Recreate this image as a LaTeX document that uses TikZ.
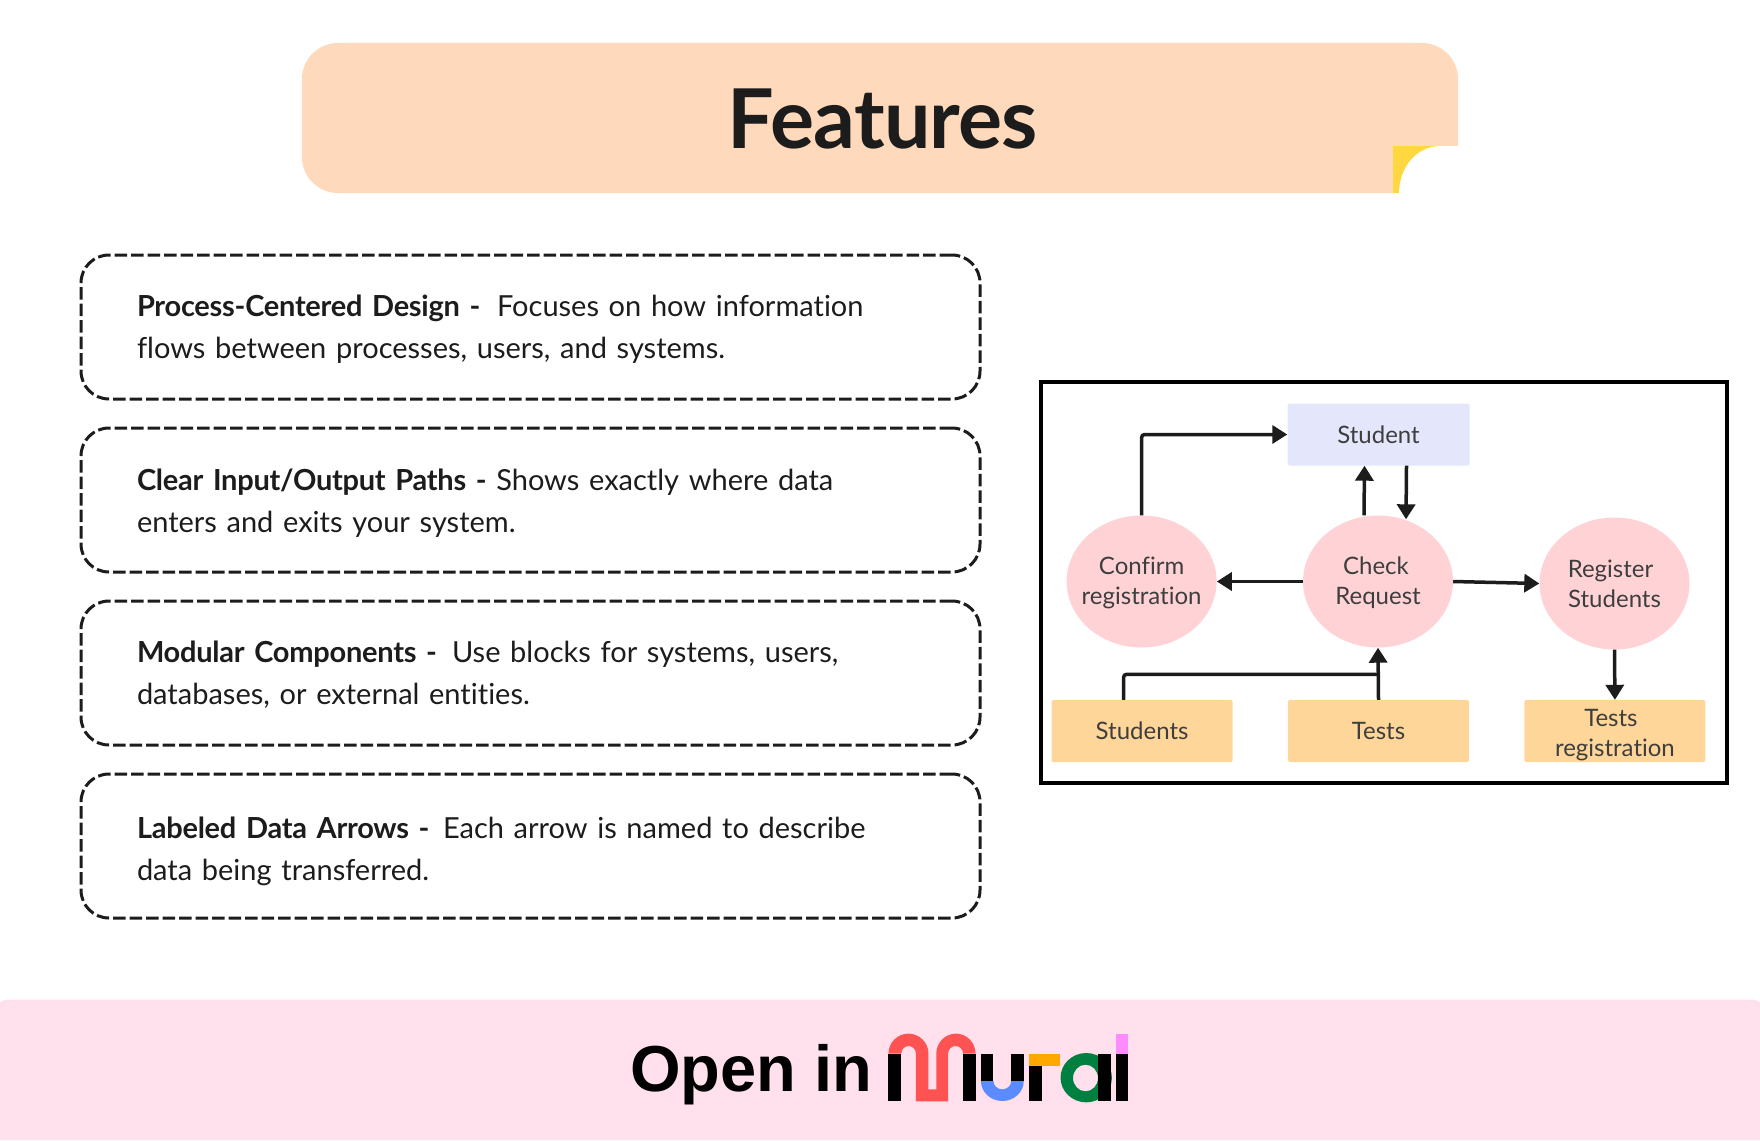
\documentclass[tikz,border=0pt]{standalone}
\usepackage{fontspec}
\setmainfont{Lato}[Ligatures=NoCommon,BoldFeatures={LetterSpace=-0.9}]
\newfontfamily\btnfont{Liberation Sans}
\usetikzlibrary{positioning,arrows.meta,shapes.geometric}
\definecolor{headcol}{HTML}{FFD9BB}
\definecolor{foldcol}{HTML}{FFD740}
\definecolor{inkcol}{HTML}{1C1C1C}
\definecolor{pnkcol}{HTML}{FFD3D6}
\definecolor{orgcol}{HTML}{FFD699}
\definecolor{lavcol}{HTML}{E4E6FC}
\definecolor{footcol}{HTML}{FFE0EC}
\definecolor{logored}{HTML}{FF5252}
\definecolor{logoblue}{HTML}{5B8CFF}
\definecolor{logoorg}{HTML}{FFA800}
\definecolor{logogreen}{HTML}{008040}
\definecolor{logopnk}{HTML}{FF8CFF}
\begin{document}
\begin{tikzpicture} [x=1pt,y=1pt,
            head/.style={rectangle, fill=headcol, rounded corners=36pt, minimum width=1156pt, minimum height=150pt},
            card/.style={rectangle, draw=inkcol, line width=3pt, dash pattern=on 12.5pt off 4pt, rounded corners=28pt, minimum width=899pt, minimum height=144pt, text width=787pt, align=left, text=inkcol, font=\fontsize{29}{42}\selectfont},
            lbl/.style={inner sep=0pt, align=center, text=inkcol!85, font=\fontsize{24}{30}\selectfont},
            pnk/.style={ellipse, fill=pnkcol, minimum width=150pt, minimum height=132pt, inner sep=0pt},
            org/.style={rectangle, fill=orgcol, rounded corners=1.5pt, minimum width=181pt, minimum height=62pt, lbl},
            lav/.style={rectangle, fill=lavcol, rounded corners=1.5pt, minimum width=182pt, minimum height=62pt, lbl},
            arr/.style={draw=inkcol, line width=3.5pt, rounded corners=3pt, -{Triangle[length=15pt,width=18pt]}},
            ]
        \useasboundingbox (0,0) rectangle (1760,-1140);
        \fill[footcol] (0,-1140) -- (0,-1002) -- (6,-999.5) -- (1754,-999.5) -- (1760,-1002) -- (1760,-1140) -- cycle;
        \node[head](features) at (880,-118){};
        \node[text=inkcol, font=\fontsize{82.5}{82.5}\selectfont\bfseries](title) at (883,-119){Features};
        \fill[foldcol] (1393,-146) rectangle (1441,-193);
        \fill[white] (1399,-194) .. controls (1399,-168) and (1416,-146) .. (1441,-146) -- (1459,-146) -- (1459,-194) -- cycle;
        \node[card](process) at (530.5,-327){\rule{0pt}{25pt}\textbf{Process-Centered Design -}\ \hspace{7pt}Focuses on how information\\flows between processes, users, and systems.};
        \node[card](paths)[below=26pt of process]{\rule{0pt}{27pt}\textbf{Clear Input/Output Paths -} Shows exactly where data\\enters and exits your system.};
        \node[card](blocks)[below=26pt of paths]{\rule{0pt}{25pt}\textbf{Modular Components -}\ \hspace{5.5pt}Use blocks for systems, users,\\databases, or external entities.};
        \node[card](labels)[below=26pt of blocks]{\rule{0pt}{33pt}\textbf{Labeled Data Arrows -}\ \hspace{4pt}Each arrow is named to describe\\data being transferred.};
        \node[draw=black, line width=4pt, minimum width=686pt, minimum height=401pt](frame) at (1384,-582.5){};
        \node[lav](student) at (1378.5,-434.5){Student};
        \node[pnk, label={[lbl,yshift=-1pt]center:\mbox{Check\hspace{4pt}}\\Request}](check) at (1378,-581.5){};
        \node[pnk, label={[lbl,yshift=-1pt]center:Confirm\\registration}](confirm)[left=86pt of check]{};
        \node[pnk, label={[lbl]center:\mbox{Register\hspace{8pt}}\\Students}](register) at (1614.5,-583.5){};
        \node[org](tests) at (1378.5,-731){Tests};
        \node[org](students)[left=55pt of tests]{Students};
        \node[org, label={[lbl,yshift=-4.5pt]center:\mbox{Tests\hspace{8pt}}\\registration}](testsreg)[right=55pt of tests]{};
        \coordinate (join) at ([yshift=25.5pt]tests.north);
        \draw[arr] (confirm.north) |- (student.west);
        \draw[arr] ([xshift=-14pt]check.north) -- ([xshift=-14pt]student.south);
        \draw[arr] ([xshift=28pt]student.south) -- ([xshift=28pt,yshift=-4pt]check.north);
        \draw[arr] (check.west) -- (confirm.east);
        \draw[arr] (check.east) -- (register.west);
        \draw[arr] (register.south) -- (testsreg.north);
        \draw[arr] (tests.north) -- (check.south);
        \draw[draw=inkcol, line width=3.5pt, rounded corners=3pt] ([xshift=-18.5pt]students.north) |- (join);
        \node[inner sep=0pt, font=\btnfont\fontsize{65}{65}\selectfont\bfseries](open) at (751,-1075){Open in};
        \begin{scope}[shift={(600,-1002)},x=0.357pt,y=-0.3333pt]
            \fill[black] (808,155) rectangle (844,298);
            \fill[black] (1017,155) rectangle (1052,298);
            \fill[logored] (808,155) arc[start angle=180, end angle=360, x radius=56, y radius=60] -- (920,262) -- (942,262) -- (942,155) arc[start angle=180, end angle=360, x radius=55, y radius=60] -- (1017,155) arc[start angle=360, end angle=180, x radius=21, y radius=23] -- (975,298) -- (885,298) -- (885,155) arc[start angle=360, end angle=180, x radius=20.5, y radius=23] -- (844,155) -- cycle;
            \fill[black] (1067,155) rectangle (1102,237);
            \fill[black] (1152,155) rectangle (1187,237);
            \fill[logoblue] (1067,237) arc[start angle=180, end angle=0, radius=60] -- (1152,237) arc[start angle=0, end angle=180, radius=25] -- cycle;
            \fill[black] (1201,193) rectangle (1237,298);
            \fill[logoorg] (1201,155) rectangle (1289,193);
            \fill[logogreen, even odd rule] (1362,227) ellipse[x radius=72, y radius=74] (1360,228) ellipse[x radius=35, y radius=40];
            \fill[black] (1394,155) rectangle (1430,298);
            \fill[black] (1445,155) rectangle (1479,298);
            \fill[logopnk] (1445,97) rectangle (1479,155);
        \end{scope}
    \end{tikzpicture}
\end{document}
